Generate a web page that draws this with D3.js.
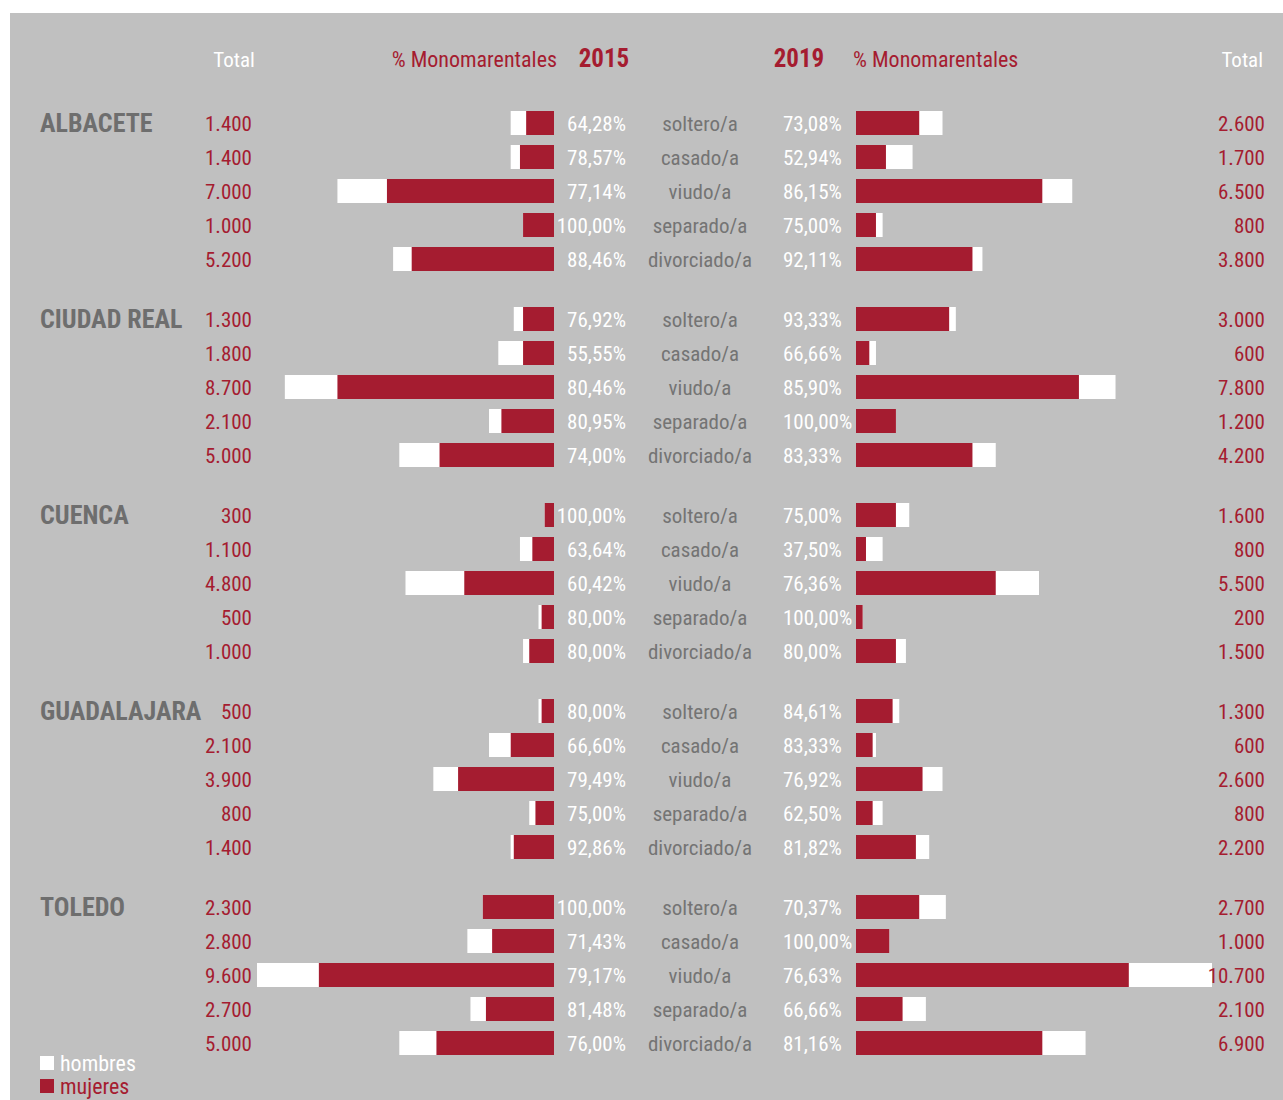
<!DOCTYPE html>
<html>
<head>
<meta charset="utf-8">
<script src="https://cdn.jsdelivr.net/npm/d3@7/dist/d3.min.js"></script>
<style>
  html, body { margin: 0; padding: 0; background: #ffffff; }
  svg text { font-family: 'Liberation Sans Narrow', 'Roboto Condensed', 'Arial Narrow', sans-serif; }
</style>
</head>
<body>
<svg id="chart" width="1283" height="1100"></svg>
<script>
const provinces = ["ALBACETE", "CIUDAD REAL", "CUENCA", "GUADALAJARA", "TOLEDO"];
const categories = ["soltero/a", "casado/a", "viudo/a", "separado/a", "divorciado/a"];
const years = ["2015", "2019"];
const legendLabels = ["hombres", "mujeres"];

const total2015 = [
  [1400, 1400, 7000, 1000, 5200],
  [1300, 1800, 8700, 2100, 5000],
  [300, 1100, 4800, 500, 1000],
  [500, 2100, 3900, 800, 1400],
  [2300, 2800, 9600, 2700, 5000]
];
const pct2015 = [
  [64.28, 78.57, 77.14, 100.00, 88.46],
  [76.92, 55.55, 80.46, 80.95, 74.00],
  [100.00, 63.64, 60.42, 80.00, 80.00],
  [80.00, 66.60, 79.49, 75.00, 92.86],
  [100.00, 71.43, 79.17, 81.48, 76.00]
];
const total2019 = [
  [2600, 1700, 6500, 800, 3800],
  [3000, 600, 7800, 1200, 4200],
  [1600, 800, 5500, 200, 1500],
  [1300, 600, 2600, 800, 2200],
  [2700, 1000, 10700, 2100, 6900]
];
const pct2019 = [
  [73.08, 52.94, 86.15, 75.00, 92.11],
  [93.33, 66.66, 85.90, 100.00, 83.33],
  [75.00, 37.50, 76.36, 100.00, 80.00],
  [84.61, 83.33, 76.92, 62.50, 81.82],
  [70.37, 100.00, 76.63, 66.66, 81.16]
];

const RED = "#a51c30";
const BG = "#c0c0c0";
const GRAY = "#6e6e6e";
const CATGRAY = "#747474";

const es = d3.formatLocale({ decimal: ",", thousands: ".", grouping: [3], currency: ["", " €"] });
const fmtTotal = es.format(",d");
const fmtPct = v => es.format(".2f")(v) + "%";

const svg = d3.select("#chart");
svg.append("rect").attr("x", 10).attr("y", 13).attr("width", 1273).attr("height", 1087).attr("fill", BG);

// scales
const max2015 = d3.max(total2015.flat());
const max2019 = d3.max(total2019.flat());
const xL = d3.scaleLinear().domain([0, max2015]).range([554, 257]);
const xR = d3.scaleLinear().domain([0, max2019]).range([856, 1212]);
const yGroup = d3.scalePoint().domain(provinces).range([123, 907]);
const yRow = d3.scalePoint().domain(categories).range([0, 136]);
const barH = 24;

const rows = [];
provinces.forEach((p, g) => {
  categories.forEach((c, r) => {
    rows.push({
      prov: p, cat: c, g, r,
      t15: total2015[g][r], p15: pct2015[g][r],
      t19: total2019[g][r], p19: pct2019[g][r],
      y: yGroup(p) + yRow(c)
    });
  });
});

// headers
const hy = 67;
const head = svg.append("g");
head.append("text").attr("x", 234).attr("y", hy).attr("text-anchor", "middle")
  .attr("fill", "#ffffff").attr("font-size", 21).text("Total");
head.append("text").attr("x", 557).attr("y", hy).attr("text-anchor", "end")
  .attr("fill", RED).attr("font-size", 22).text("% Monomarentales");
head.append("text").attr("x", 604).attr("y", hy).attr("text-anchor", "middle")
  .attr("fill", RED).attr("font-size", 25).attr("font-weight", "bold").text(years[0]);
head.append("text").attr("x", 799).attr("y", hy).attr("text-anchor", "middle")
  .attr("fill", RED).attr("font-size", 25).attr("font-weight", "bold").text(years[1]);
head.append("text").attr("x", 853).attr("y", hy).attr("text-anchor", "start")
  .attr("fill", RED).attr("font-size", 22).text("% Monomarentales");
head.append("text").attr("x", 1263).attr("y", hy).attr("text-anchor", "end")
  .attr("fill", "#ffffff").attr("font-size", 21).text("Total");

// province names
svg.append("g").selectAll("text").data(provinces).join("text")
  .attr("x", 40).attr("y", d => yGroup(d)).attr("dy", "0.36em")
  .attr("fill", GRAY).attr("font-size", 26).attr("font-weight", "bold")
  .text(d => d);

const rowG = svg.append("g").selectAll("g").data(rows).join("g")
  .attr("transform", d => `translate(0,${d.y})`);

// left bars 2015: total (white) then women (red)
rowG.append("rect")
  .attr("x", d => xL(d.t15)).attr("y", -barH / 2)
  .attr("width", d => xL(0) - xL(d.t15)).attr("height", barH)
  .attr("fill", "#ffffff");
rowG.append("rect")
  .attr("x", d => xL(d.t15 * d.p15 / 100)).attr("y", -barH / 2)
  .attr("width", d => xL(0) - xL(d.t15 * d.p15 / 100)).attr("height", barH)
  .attr("fill", RED);

// right bars 2019
rowG.append("rect")
  .attr("x", xR(0)).attr("y", -barH / 2)
  .attr("width", d => xR(d.t19) - xR(0)).attr("height", barH)
  .attr("fill", "#ffffff");
rowG.append("rect")
  .attr("x", xR(0)).attr("y", -barH / 2)
  .attr("width", d => xR(d.t19 * d.p19 / 100) - xR(0)).attr("height", barH)
  .attr("fill", RED);

// left totals
rowG.append("text").attr("x", 252).attr("dy", "0.36em").attr("text-anchor", "end")
  .attr("fill", RED).attr("font-size", 21).text(d => fmtTotal(d.t15));
// left pct
rowG.append("text").attr("x", 626).attr("dy", "0.36em").attr("text-anchor", "end")
  .attr("fill", "#ffffff").attr("font-size", 21).text(d => fmtPct(d.p15));
// category
rowG.append("text").attr("x", 700).attr("dy", "0.36em").attr("text-anchor", "middle")
  .attr("fill", CATGRAY).attr("font-size", 21).text(d => d.cat);
// right pct
rowG.append("text").attr("x", 783).attr("dy", "0.36em").attr("text-anchor", "start")
  .attr("fill", "#ffffff").attr("font-size", 21).text(d => fmtPct(d.p19));
// right totals
rowG.append("text").attr("x", 1265).attr("dy", "0.36em").attr("text-anchor", "end")
  .attr("fill", RED).attr("font-size", 21).text(d => fmtTotal(d.t19));

// legend
const legColors = ["#ffffff", RED];
const leg = svg.append("g").selectAll("g").data(legendLabels).join("g")
  .attr("transform", (d, i) => `translate(40,${1056 + i * 23})`);
leg.append("rect").attr("width", 14).attr("height", 14).attr("fill", (d, i) => legColors[i]);
leg.append("text").attr("x", 20).attr("y", 7).attr("dy", "0.36em")
  .attr("font-size", 22).attr("fill", (d, i) => legColors[i]).text(d => d);
</script>
</body>
</html>
